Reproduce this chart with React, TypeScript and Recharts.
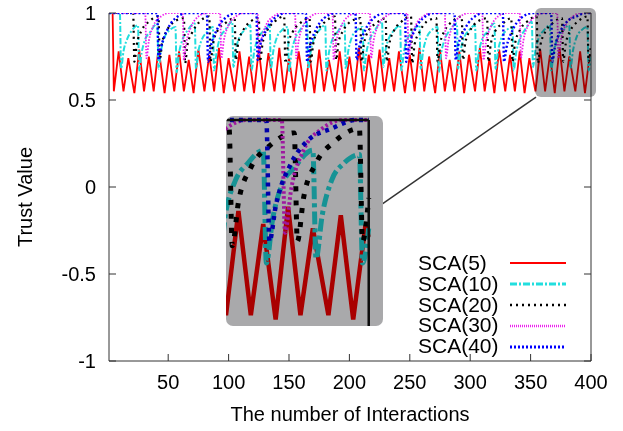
import { LineChart, Line, XAxis, YAxis, ReferenceLine, Label } from "recharts";

const FONT = '"Liberation Sans", Arial, sans-serif';

const xTicks = [50, 100, 150, 200, 250, 300, 350, 400];
const yTicks = [-1, -0.5, 0, 0.5, 1];
const seriesNames = ["SCA(5)", "SCA(10)", "SCA(20)", "SCA(30)", "SCA(40)"];

// [interaction, trust] vertices
const sca5: [number, number][] = [
  [1, 1], [4, 1], [5, 0.55], [9, 0.78], [13, 0.55], [17, 0.74], [22, 0.54], [26, 0.79], [30, 0.55], [34, 0.75],
  [38, 0.55], [42, 0.8], [47, 0.54], [51, 0.76], [55, 0.55], [59, 0.78], [63, 0.55], [67, 0.73], [71, 0.54], [75, 0.79],
  [80, 0.55], [84, 0.76], [88, 0.55], [92, 0.8], [96, 0.54], [100, 0.74], [105, 0.55], [109, 0.78], [113, 0.55], [117, 0.75],
  [121, 0.54], [125, 0.79], [129, 0.55], [133, 0.77], [138, 0.55], [142, 0.8], [146, 0.54], [150, 0.74], [154, 0.55], [158, 0.78],
  [163, 0.55], [167, 0.76], [171, 0.54], [175, 0.79], [179, 0.55], [183, 0.73], [188, 0.55], [192, 0.78], [196, 0.54], [200, 0.75],
  [204, 0.55], [208, 0.8], [212, 0.55], [216, 0.76], [221, 0.54], [225, 0.79], [229, 0.55], [233, 0.74], [237, 0.55], [241, 0.78],
  [246, 0.54], [250, 0.76], [254, 0.55], [258, 0.8], [262, 0.55], [266, 0.75], [271, 0.54], [275, 0.79], [279, 0.55], [283, 0.73],
  [287, 0.55], [291, 0.78], [295, 0.54], [299, 0.76], [304, 0.55], [308, 0.8], [312, 0.55], [316, 0.74], [320, 0.54], [324, 0.79],
  [329, 0.55], [333, 0.76], [337, 0.55], [341, 0.78], [345, 0.54], [349, 0.74], [354, 0.55], [358, 0.79], [362, 0.55], [366, 0.76],
  [370, 0.54], [374, 0.8], [378, 0.55], [382, 0.75], [387, 0.55], [391, 0.78], [395, 0.54], [399, 0.76], [400, 0.73],
];

const sca10: [number, number][] = [
  [1, 1], [10, 1],
  [11, 0.68], [13, 0.78], [16, 0.85], [20, 0.9], [25, 0.93],
  [26, 0.67], [28, 0.77], [31, 0.85], [35, 0.89], [41, 0.94],
  [42, 0.68], [44, 0.78], [47, 0.86], [51, 0.9], [56, 0.92],
  [57, 0.66], [59, 0.77], [62, 0.85], [66, 0.9], [72, 0.94],
  [73, 0.68], [75, 0.78], [78, 0.85], [82, 0.89], [87, 0.92],
  [88, 0.67], [90, 0.77], [93, 0.86], [97, 0.9], [103, 0.95],
  [104, 0.69], [106, 0.79], [109, 0.86], [113, 0.9], [118, 0.93],
  [119, 0.67], [121, 0.77], [124, 0.85], [128, 0.89], [134, 0.93],
  [135, 0.68], [137, 0.78], [140, 0.86], [144, 0.9], [149, 0.92],
  [150, 0.66], [152, 0.77], [155, 0.85], [159, 0.9], [165, 0.94],
  [166, 0.68], [168, 0.78], [171, 0.86], [175, 0.9], [180, 0.93],
  [181, 0.67], [183, 0.77], [186, 0.85], [190, 0.89], [196, 0.94],
  [197, 0.68], [199, 0.78], [202, 0.86], [206, 0.9], [211, 0.92],
  [212, 0.67], [214, 0.77], [217, 0.85], [221, 0.9], [227, 0.95],
  [228, 0.69], [230, 0.79], [233, 0.86], [237, 0.9], [242, 0.93],
  [243, 0.67], [245, 0.77], [248, 0.85], [252, 0.89], [258, 0.93],
  [259, 0.68], [261, 0.78], [264, 0.86], [268, 0.9], [273, 0.92],
  [274, 0.66], [276, 0.77], [279, 0.85], [283, 0.9], [289, 0.94],
  [290, 0.68], [292, 0.78], [295, 0.86], [299, 0.9], [304, 0.93],
  [305, 0.67], [307, 0.77], [310, 0.85], [314, 0.89], [320, 0.94],
  [321, 0.68], [323, 0.78], [326, 0.86], [330, 0.9], [335, 0.92],
  [336, 0.67], [338, 0.77], [341, 0.85], [345, 0.9], [351, 0.95],
  [352, 0.69], [354, 0.79], [357, 0.86], [361, 0.9], [366, 0.93],
  [367, 0.67], [369, 0.77], [372, 0.85], [376, 0.89], [382, 0.93],
  [383, 0.68], [385, 0.78], [388, 0.86], [392, 0.9], [397, 0.92],
  [398, 0.67], [400, 0.75],
];

const sca20: [number, number][] = [
  [1, 1], [21, 1],
  [22, 0.72], [24, 0.82], [28, 0.9], [34, 0.95], [42, 0.98],
  [43, 0.73], [45, 0.83], [49, 0.9], [55, 0.95], [63, 0.97],
  [64, 0.71], [66, 0.82], [70, 0.89], [76, 0.95], [84, 0.98],
  [85, 0.72], [87, 0.82], [91, 0.9], [97, 0.94], [105, 0.97],
  [106, 0.73], [108, 0.83], [112, 0.9], [118, 0.95], [125, 0.97],
  [126, 0.72], [128, 0.82], [132, 0.9], [138, 0.95], [146, 0.98],
  [147, 0.71], [149, 0.81], [153, 0.89], [159, 0.94], [167, 0.97],
  [168, 0.72], [170, 0.82], [174, 0.9], [180, 0.95], [188, 0.98],
  [189, 0.73], [191, 0.83], [195, 0.9], [201, 0.95], [209, 0.97],
  [210, 0.72], [212, 0.82], [216, 0.9], [222, 0.94], [230, 0.97],
  [231, 0.72], [233, 0.82], [237, 0.9], [243, 0.95], [251, 0.98],
  [252, 0.71], [254, 0.82], [258, 0.89], [264, 0.95], [272, 0.97],
  [273, 0.72], [275, 0.82], [279, 0.9], [285, 0.95], [293, 0.98],
  [294, 0.73], [296, 0.83], [300, 0.9], [306, 0.95], [314, 0.97],
  [315, 0.72], [317, 0.82], [321, 0.9], [327, 0.94], [334, 0.97],
  [335, 0.72], [337, 0.82], [341, 0.9], [347, 0.95], [355, 0.98],
  [356, 0.71], [358, 0.81], [362, 0.89], [368, 0.94], [376, 0.97],
  [377, 0.72], [379, 0.82], [383, 0.9], [389, 0.95], [397, 0.98],
  [398, 0.72], [400, 0.82],
];

const sca30: [number, number][] = [
  [1, 1], [31, 1],
  [32, 0.74], [34, 0.84], [38, 0.93], [44, 0.98], [51, 1], [62, 1],
  [63, 0.73], [65, 0.83], [69, 0.92], [75, 0.98], [82, 1], [93, 1],
  [94, 0.74], [96, 0.84], [100, 0.93], [106, 0.98], [113, 1], [124, 1],
  [125, 0.75], [127, 0.84], [131, 0.93], [137, 0.98], [144, 1], [155, 1],
  [156, 0.74], [158, 0.84], [162, 0.93], [168, 0.98], [175, 1], [186, 1],
  [187, 0.73], [189, 0.83], [193, 0.92], [199, 0.98], [206, 1], [217, 1],
  [218, 0.74], [220, 0.84], [224, 0.93], [230, 0.98], [237, 1], [248, 1],
  [249, 0.75], [251, 0.84], [255, 0.93], [261, 0.98], [268, 1], [279, 1],
  [280, 0.74], [282, 0.84], [286, 0.93], [292, 0.98], [299, 1], [310, 1],
  [311, 0.73], [313, 0.83], [317, 0.92], [323, 0.98], [330, 1], [341, 1],
  [342, 0.74], [344, 0.84], [348, 0.93], [354, 0.98], [361, 1], [372, 1],
  [373, 0.74], [375, 0.84], [379, 0.93], [385, 0.98], [392, 1], [400, 1],
];

const sca40: [number, number][] = [
  [1, 1], [41, 1],
  [42, 0.73], [44, 0.8], [49, 0.9], [56, 0.97], [66, 1], [82, 1],
  [83, 0.72], [85, 0.8], [90, 0.9], [97, 0.97], [107, 1], [123, 1],
  [124, 0.73], [126, 0.81], [131, 0.9], [138, 0.97], [148, 1], [164, 1],
  [165, 0.72], [167, 0.8], [172, 0.9], [179, 0.97], [189, 1], [205, 1],
  [206, 0.73], [208, 0.8], [213, 0.9], [220, 0.97], [230, 1], [246, 1],
  [247, 0.72], [249, 0.8], [254, 0.9], [261, 0.97], [271, 1], [287, 1],
  [288, 0.73], [290, 0.81], [295, 0.9], [302, 0.97], [312, 1], [327, 1],
  [328, 0.72], [330, 0.8], [335, 0.9], [342, 0.97], [352, 1], [367, 1],
  [368, 0.72], [370, 0.8], [375, 0.9], [380, 0.95], [388, 0.98], [396, 1], [400, 1],
];

const seriesData = [sca5, sca10, sca20, sca30, sca40].map((pts) => pts.map(([x, y]) => ({ x, y })));

const lineStyles = [
  { color: "#ff0000", width: 1.8, dash: undefined, insetWidth: 4.5, insetDash: undefined, curve: "linear", legendDash: undefined, legendWidth: 2 },
  { color: "#22dede", width: 2, dash: "6 2 2 2", insetWidth: 5, insetDash: "13 4 4 4", curve: "monotone", legendDash: "7 2 2 2", legendWidth: 3 },
  { color: "#000000", width: 2.2, dash: "2 4", insetWidth: 5, insetDash: "5 9", curve: "monotone", legendDash: "2 4", legendWidth: 2.5 },
  { color: "#ee22ee", width: 1.8, dash: "1.5 1.5", insetWidth: 4, insetDash: "2.5 2.5", curve: "monotone", legendDash: "1 1", legendWidth: 2.5 },
  { color: "#0000ff", width: 2.4, dash: "2 2.2", insetWidth: 4.5, insetDash: "4 5", curve: "monotone", legendDash: "2 2", legendWidth: 3 },
];

const axisColor = "#333";
const tickStyle = { fontSize: 20, fill: "#000", fontFamily: FONT };

function InsetChart() {
  return (
    <div
      style={{
        position: "absolute",
        left: 226,
        top: 116,
        width: 157,
        height: 210,
        borderRadius: 7,
        overflow: "hidden",
        background: "#fff",
      }}
    >
      <LineChart width={157} height={210} margin={{ top: 0, right: 0, bottom: 0, left: 0 }}>
        <XAxis dataKey="x" type="number" domain={[354, 404.6]} allowDataOverflow hide />
        <YAxis type="number" domain={[0.525, 1.009]} allowDataOverflow hide width={0} />
        {seriesData.map((d, i) => (
          <Line
            key={seriesNames[i]}
            data={d}
            dataKey="y"
            type={lineStyles[i].curve as any}
            stroke={lineStyles[i].color}
            strokeWidth={lineStyles[i].insetWidth}
            strokeDasharray={lineStyles[i].insetDash}
            dot={false}
            isAnimationActive={false}
          />
        ))}
        <ReferenceLine segment={[{ x: 340, y: 1 }, { x: 400, y: 1 }]} stroke="#111" strokeWidth={2.5} ifOverflow="visible" />
        <ReferenceLine segment={[{ x: 400, y: 1 }, { x: 400, y: 0.5 }]} stroke="#111" strokeWidth={2.5} ifOverflow="visible" />
      </LineChart>
      <div style={{ position: "absolute", inset: 0, background: "#a9a9ab", mixBlendMode: "multiply" }} />
    </div>
  );
}

function LegendBox() {
  return (
    <div style={{ position: "absolute", left: 418, top: 253, fontFamily: FONT, fontSize: 21, color: "#000" }}>
      {seriesNames.map((name, i) => (
        <div key={name} style={{ display: "flex", alignItems: "center", height: 20.8 }}>
          <span style={{ width: 92, lineHeight: "20.8px" }}>{name}</span>
          <svg width={56} height={10}>
            <line
              x1={0}
              x2={56}
              y1={5}
              y2={5}
              stroke={lineStyles[i].color}
              strokeWidth={lineStyles[i].legendWidth}
              strokeDasharray={lineStyles[i].legendDash}
            />
          </svg>
        </div>
      ))}
    </div>
  );
}

export default function App() {
  return (
    <div style={{ position: "absolute", left: 0, top: 0, width: 623, height: 431, background: "#fff", fontFamily: FONT }}>
      <LineChart width={623} height={431} margin={{ top: 13, right: 0, bottom: 0, left: 0 }}>
        <XAxis
          dataKey="x"
          type="number"
          domain={[1, 400]}
          allowDataOverflow
          ticks={xTicks}
          height={70}
          tick={tickStyle}
          tickSize={-7}
          tickMargin={21}
          stroke={axisColor}
          tickLine={{ stroke: axisColor }}
        >
          <Label
            content={() => (
              <text x={350} y={421} textAnchor="middle" fontSize={20} fontFamily={FONT} fill="#000">
                The number of Interactions
              </text>
            )}
          />
        </XAxis>
        <XAxis
          xAxisId="t"
          orientation="top"
          dataKey="x"
          type="number"
          domain={[1, 400]}
          allowDataOverflow
          ticks={xTicks}
          height={0}
          tickSize={-7}
          tickFormatter={() => ""}
          stroke={axisColor}
        />
        <YAxis
          type="number"
          domain={[-1, 1]}
          allowDataOverflow
          ticks={yTicks}
          width={109}
          tick={tickStyle}
          tickSize={-7}
          tickMargin={20}
          stroke={axisColor}
        >
          <Label
            content={() => (
              <text
                x={27}
                y={197}
                transform="rotate(-90 27 197)"
                textAnchor="middle"
                dominantBaseline="middle"
                fontSize={20}
                fontFamily={FONT}
                fill="#000"
              >
                Trust Value
              </text>
            )}
          />
        </YAxis>
        <YAxis
          yAxisId="r"
          orientation="right"
          type="number"
          domain={[-1, 1]}
          allowDataOverflow
          ticks={yTicks}
          width={32}
          tickSize={-7}
          tickFormatter={() => ""}
          stroke={axisColor}
        />
        {seriesData.map((d, i) => (
          <Line
            key={seriesNames[i]}
            name={seriesNames[i]}
            data={d}
            dataKey="y"
            type={lineStyles[i].curve as any}
            stroke={lineStyles[i].color}
            strokeWidth={lineStyles[i].width}
            strokeDasharray={lineStyles[i].dash}
            dot={false}
            isAnimationActive={false}
          />
        ))}
        <ReferenceLine
          segment={[{ x: 227, y: -0.098 }, { x: 354.5, y: 0.517 }]}
          stroke="#333"
          strokeWidth={1.5}
          ifOverflow="visible"
        />
      </LineChart>
      <div
        style={{
          position: "absolute",
          left: 535,
          top: 8,
          width: 61,
          height: 89,
          borderRadius: 6,
          background: "#a9a9ab",
          mixBlendMode: "multiply",
        }}
      />
      <InsetChart />
      <LegendBox />
    </div>
  );
}
